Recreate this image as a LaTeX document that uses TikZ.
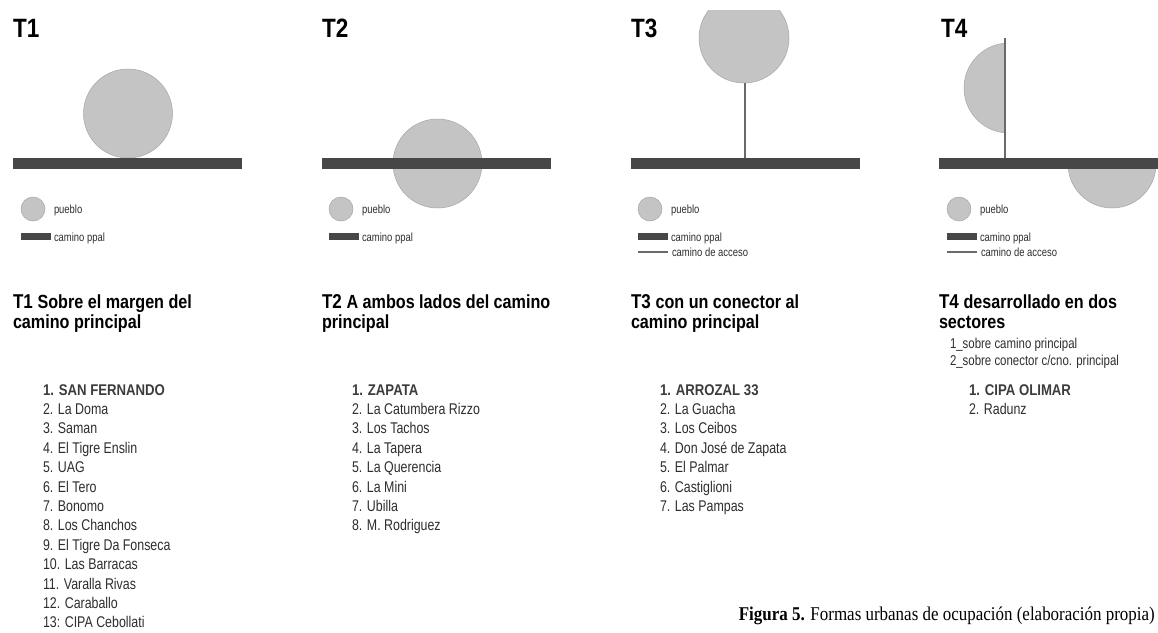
\documentclass[tikz,border=0pt]{standalone}
\usepackage{fontspec}
\setmainfont[FakeStretch=0.8,BoldFeatures={FakeStretch=0.85}]{Liberation Sans}
\newfontfamily\capfont[FakeStretch=0.87]{Liberation Serif}
\definecolor{puebloc}{HTML}{C4C4C4}
\definecolor{puebloe}{HTML}{A6A6A6}
\definecolor{roadc}{HTML}{474747}
\definecolor{accc}{HTML}{6A6A6A}
\definecolor{txtc}{HTML}{2E2E2E}
\definecolor{boldc}{HTML}{3C3C3C}
\newcommand\fsBigT{\fontsize{26.5}{26.5}\selectfont\bfseries}
\newcommand\fsTitle{\fontsize{19}{19}\selectfont\bfseries}
\newcommand\fsTitleT{\fontsize{20}{20}\selectfont\bfseries}
\newcommand\fsList{\fontsize{15.5}{15.5}\selectfont}
\newcommand\fsLeg{\fontsize{11.8}{11.8}\selectfont}
\newcommand\fsSub{\fontsize{14.3}{14.3}\selectfont}
\begin{document}
\begin{tikzpicture}[x=1pt,y=-1pt,
  txt/.style={anchor=base west,inner sep=0pt,outer sep=0pt},
  pueblo/.style={fill=puebloc,draw=puebloe,line width=0.5pt},
  road/.style={fill=roadc},
  acceso/.style={draw=accc,line width=2pt},
  leg/.style={txt,font=\fsLeg,text=txtc},
  item/.style={txt,font=\fsList,text=txtc},
  itemb/.style={txt,font=\fsList\bfseries,text=boldc},
  sub/.style={txt,font=\fsSub,text=txtc}]
\useasboundingbox (0,0) rectangle (1158,632);
\fill[white] (0,0) rectangle (1158,632);

% ---------- headings ----------
\node[txt,font=\fsBigT] (h1) at (13,37) {T1};
\node[txt,font=\fsBigT] (h2) at (322,37) {T2};
\node[txt,font=\fsBigT] (h3) at (631,37) {T3};
\node[txt,font=\fsBigT] (h4) at (941,37) {T4};

% ---------- T1 ----------
\draw[pueblo] (128,113.5) circle (44.5);
\fill[road] (13,158) rectangle (242,169);
% ---------- T2 ----------
\draw[pueblo] (437.5,163.5) circle (44.5);
\fill[road] (322,158) rectangle (551,169);
% ---------- T3 ----------
\begin{scope}
  \clip (600,10) rectangle (900,200);
  \draw[pueblo] (744,38) circle (45);
\end{scope}
\coordinate (c3top) at (745,83);
\coordinate (c3bot) at (745,158);
\draw[acceso] (c3top) -- (c3bot);
\fill[road] (631,158) rectangle (860,169);
% ---------- T4 ----------
\begin{scope}
  \clip (900,0) rectangle (1005,158);
  \draw[pueblo] (1009,88) circle (45);
\end{scope}
\begin{scope}
  \clip (1060,164) rectangle (1158,220);
  \draw[pueblo] (1112,164) circle (44);
\end{scope}
\coordinate (c4top) at (1005,38);
\coordinate (c4bot) at (1005,158);
\draw[acceso] (c4top) -- (c4bot);
\fill[road] (939,158) rectangle (1158,169);

% ---------- legends ----------
\foreach \x/\n in {21/1,329/2,638/3,947/4}{
  \draw[pueblo] (\x+12,209) circle (12);
  \fill[road] (\x,233) rectangle (\x+30,240);
  \node[leg] (pu\n) at (\x+33,213) {pueblo};
  \node[leg] (cp\n) at (\x+33,241.5) {camino ppal};
}
\coordinate (a3s) at (638,252); \coordinate (a3e) at (668,252);
\draw[draw=accc,line width=1.6pt] (a3s) -- (a3e);
\node[leg] (ca3) at (672,256) {camino de acceso};
\coordinate (a4s) at (947,252); \coordinate (a4e) at (977,252);
\draw[draw=accc,line width=1.6pt] (a4s) -- (a4e);
\node[leg] (ca4) at (981,256) {camino de acceso};

% ---------- titles ----------
\node[txt] (t1a) at (13,308) {\fsTitleT T1 \fsTitle Sobre el margen del};
\node[txt] (t1b) at (13,328) {\fsTitle camino principal};
\node[txt] (t2a) at (322,308) {\fsTitleT T2 \fsTitle A ambos lados del camino};
\node[txt] (t2b) at (322,328) {\fsTitle principal};
\node[txt] (t3a) at (631,308) {\fsTitleT T3 \fsTitle con un conector al};
\node[txt] (t3b) at (631,328) {\fsTitle camino principal};
\node[txt] (t4a) at (939,308) {\fsTitleT T4 \fsTitle desarrollado en dos};
\node[txt] (t4b) at (939,328) {\fsTitle sectores};
\node[sub] (s41) at (950,348) {1\_sobre camino principal};
\node[sub] (s42) at (950,365) {2\_sobre conector c/cno. principal};

% ---------- lists ----------
\def\pitch{19.4}
\node[itemb] (l1-1) at (43,395) {1. SAN FERNANDO};
\foreach \t [count=\i from 2] in {2. La Doma,3. Saman,4. El Tigre Enslin,5. UAG,6. El Tero,7. Bonomo,8. Los Chanchos,9. El Tigre Da Fonseca,10. Las Barracas,11. Varalla Rivas,12. Caraballo,13: CIPA Cebollati}
  \node[item] (l1-\i) at (43,{395+(\i-1)*\pitch}) {\t};

\node[itemb] (l2-1) at (352,395) {1. ZAPATA};
\foreach \t [count=\i from 2] in {2. La Catumbera Rizzo,3. Los Tachos,4. La Tapera,5. La Querencia,6. La Mini,7. Ubilla,8. M. Rodriguez}
  \node[item] (l2-\i) at (352,{395+(\i-1)*\pitch}) {\t};

\node[itemb] (l3-1) at (660,395) {1. ARROZAL 33};
\foreach \t [count=\i from 2] in {2. La Guacha,3. Los Ceibos,4. Don José de Zapata,5. El Palmar,6. Castiglioni,7. Las Pampas}
  \node[item] (l3-\i) at (660,{395+(\i-1)*\pitch}) {\t};

\node[itemb] (l4-1) at (969,395) {1. CIPA OLIMAR};
\node[item] (l4-2) at (969,{395+\pitch}) {2. Radunz};

% ---------- caption ----------
\node[anchor=base east,inner sep=0pt,font=\capfont\fontsize{19.5}{19.5}\selectfont] (cap) at (1155,620)
  {\textbf{Figura 5.} Formas urbanas de ocupación (elaboración propia)};
\end{tikzpicture}
\end{document}
